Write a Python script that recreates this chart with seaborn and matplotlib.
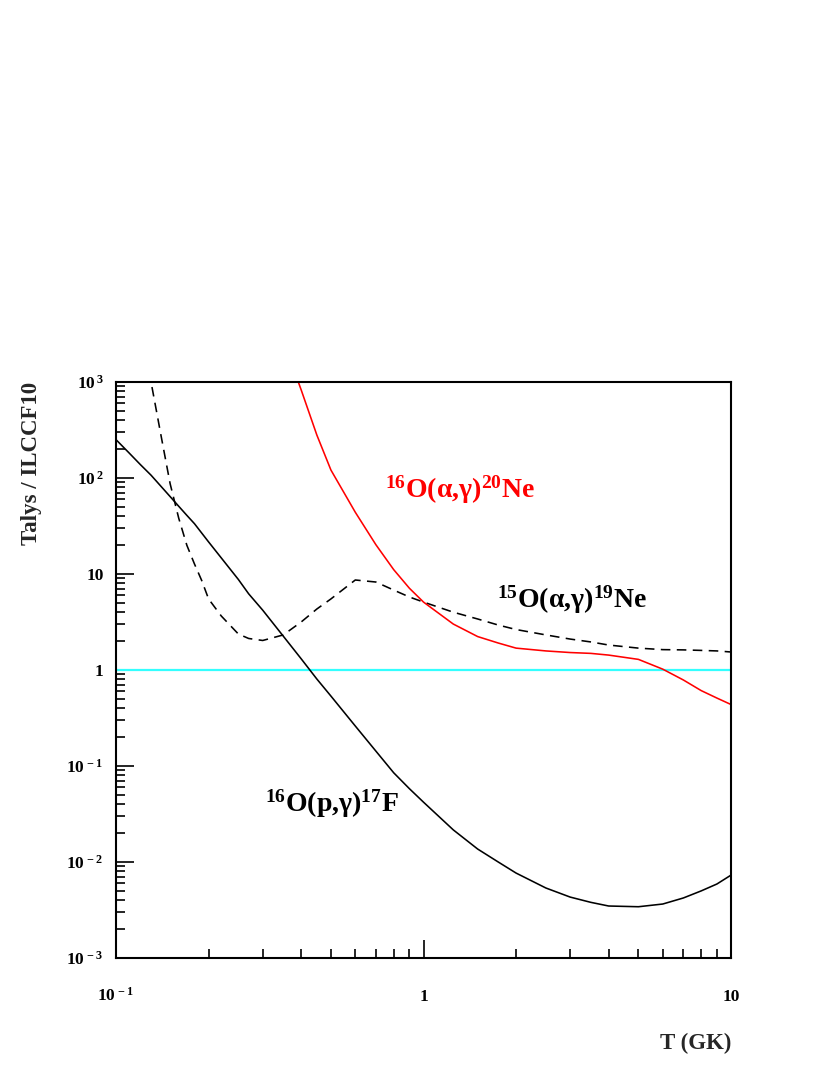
import numpy as np
import pandas as pd
import matplotlib
matplotlib.use("Agg")
import matplotlib.pyplot as plt
import seaborn as sns
from matplotlib.ticker import FixedLocator, FixedFormatter, NullFormatter, LogLocator

# ---------------- data ----------------
# 16O(p,g)17F  (solid black)
T_pg_16O = [0.1, 0.11, 0.12, 0.13, 0.14, 0.15, 0.16, 0.17, 0.18, 0.19, 0.2, 0.22, 0.25,
            0.27, 0.3, 0.35, 0.4, 0.45, 0.5, 0.6, 0.7, 0.8, 0.9, 1.0, 1.25, 1.5, 1.75,
            2.0, 2.5, 3.0, 3.5, 4.0, 5.0, 6.0, 7.0, 8.0, 9.0, 10.0]
ratio_pg_16O = [251, 184, 138, 107, 82, 64, 50.7, 40.8, 33.4, 26.7, 21.6, 14.7, 8.77,
                6.22, 4.2, 2.25, 1.31, 0.805, 0.535, 0.261, 0.143, 0.085, 0.058, 0.042,
                0.0216, 0.01365, 0.0100, 0.00767, 0.00536, 0.00431, 0.0038, 0.00348,
                0.00342, 0.00365, 0.00422, 0.0050, 0.0059, 0.0073]

# 15O(a,g)19Ne  (dashed black)
T_ag_15O = [0.12, 0.13, 0.14, 0.15, 0.16, 0.17, 0.18, 0.19, 0.2, 0.22, 0.25, 0.27, 0.3,
            0.35, 0.4, 0.45, 0.5, 0.6, 0.7, 0.8, 0.9, 1.0, 1.25, 1.5, 1.75, 2.0, 2.5,
            3.0, 3.5, 4.0, 5.0, 6.0, 7.0, 8.0, 9.0, 10.0]
ratio_ag_15O = [4000, 1000, 280, 87, 38, 19.9, 12.7, 8.55, 5.5, 3.65, 2.37, 2.13, 2.03,
                2.32, 3.16, 4.32, 5.5, 8.66, 8.25, 6.8, 5.76, 5.1, 4.0, 3.4, 2.94, 2.64,
                2.32, 2.1, 1.96, 1.82, 1.69, 1.63, 1.62, 1.6, 1.58, 1.54]

# 16O(a,g)20Ne  (solid red)
T_ag_16O = [0.35, 0.4, 0.45, 0.5, 0.6, 0.7, 0.8, 0.9, 1.0, 1.25, 1.5, 1.75, 2.0, 2.5,
            3.0, 3.5, 4.0, 5.0, 6.0, 7.0, 8.0, 9.0, 10.0]
ratio_ag_16O = [2700, 830, 280, 121, 44, 20.2, 11.1, 7.1, 5.1, 3.01, 2.23, 1.91, 1.69,
                1.58, 1.52, 1.49, 1.43, 1.29, 1.02, 0.787, 0.61, 0.51, 0.437]

unity_T = [0.1, 10.0]
unity_ratio = [1.0, 1.0]

x_ticks = [0.1, 1.0, 10.0]
x_ticklabels = [r"$10^{\,-1}$", "1", "10"]
y_ticks = [1e-3, 1e-2, 1e-1, 1.0, 10.0, 1e2, 1e3]
y_ticklabels = [r"$10^{\,-3}$", r"$10^{\,-2}$", r"$10^{\,-1}$", "1", "10",
                r"$10^{\,2}$", r"$10^{\,3}$"]

# ---------------- style ----------------
sns.set_theme(style="white")
plt.rcParams["font.family"] = ["Liberation Serif", "DejaVu Serif"]
plt.rcParams["font.weight"] = "bold"
plt.rcParams["mathtext.fontset"] = "custom"
plt.rcParams["mathtext.rm"] = "Liberation Serif:bold"
plt.rcParams["mathtext.it"] = "Liberation Serif:bold:italic"
plt.rcParams["mathtext.bf"] = "Liberation Serif:bold"
plt.rcParams["mathtext.default"] = "rm"

fig = plt.figure(figsize=(8.3, 10.75), dpi=100)
ax = fig.add_axes([116/830, 1-958/1075, (731-116)/830, (958-382)/1075])

df_pg = pd.DataFrame({"T": T_pg_16O, "r": ratio_pg_16O})
df_15 = pd.DataFrame({"T": T_ag_15O, "r": ratio_ag_15O})
df_16 = pd.DataFrame({"T": T_ag_16O, "r": ratio_ag_16O})
df_1 = pd.DataFrame({"T": unity_T, "r": unity_ratio})

sns.lineplot(data=df_1, x="T", y="r", color="#33ffff", lw=1.6, ax=ax)
sns.lineplot(data=df_pg, x="T", y="r", color="black", lw=1.15, ax=ax)
sns.lineplot(data=df_15, x="T", y="r", color="black", lw=1.15,
             linestyle=(0, (6, 4)), ax=ax)
sns.lineplot(data=df_16, x="T", y="r", color="red", lw=1.15, ax=ax)

ax.set_xscale("log")
ax.set_yscale("log")
ax.set_xlim(0.1, 10)
ax.set_ylim(1e-3, 1e3)

ax.xaxis.set_major_locator(FixedLocator(x_ticks))
ax.xaxis.set_major_formatter(FixedFormatter(x_ticklabels))
ax.yaxis.set_major_locator(FixedLocator(y_ticks))
ax.yaxis.set_major_formatter(FixedFormatter(y_ticklabels))
ax.xaxis.set_minor_locator(LogLocator(base=10, subs=np.arange(2, 10), numticks=20))
ax.yaxis.set_minor_locator(LogLocator(base=10, subs=np.arange(2, 10), numticks=20))
ax.xaxis.set_minor_formatter(NullFormatter())
ax.yaxis.set_minor_formatter(NullFormatter())

ax.tick_params(which="both", direction="in", left=True, bottom=True,
               top=False, right=False, colors="black", labelsize=12.5)
ax.tick_params(which="major", length=13, width=1.2)
ax.tick_params(which="minor", length=6.5, width=1.2)
ax.tick_params(axis="y", pad=9)
ax.tick_params(axis="x", pad=31)
for lab in ax.get_xticklabels():
    lab.set_verticalalignment("baseline")
for lab in ax.get_yticklabels():
    lab.set_verticalalignment("center_baseline")

for s in ax.spines.values():
    s.set_color("black")
    s.set_linewidth(1.5)

ax.set_xlabel("T (GK)", fontsize=16.5, fontweight="bold", loc="right", va="center")
ax.xaxis.set_label_coords(1.0, -0.148)
ax.set_ylabel("Talys / ILCCF10", fontsize=16.5, fontweight="bold", loc="top", va="center")
ax.yaxis.set_label_coords(-0.138, 1.0)

ax.text(0.75, 63, r"$^{16}$O(α,γ)$^{20}$Ne", color="red", fontsize=20,
        fontweight="bold", ha="left", va="baseline")
ax.text(1.73, 4.42, r"$^{15}$O(α,γ)$^{19}$Ne", color="black", fontsize=20,
        fontweight="bold", ha="left", va="baseline")
ax.text(0.305, 0.0332, r"$^{16}$O(p,γ)$^{17}$F", color="black", fontsize=20,
        fontweight="bold", ha="left", va="baseline")

if ax.get_legend() is not None:
    ax.get_legend().remove()

fig.savefig("out.png", dpi=100, facecolor="white")
